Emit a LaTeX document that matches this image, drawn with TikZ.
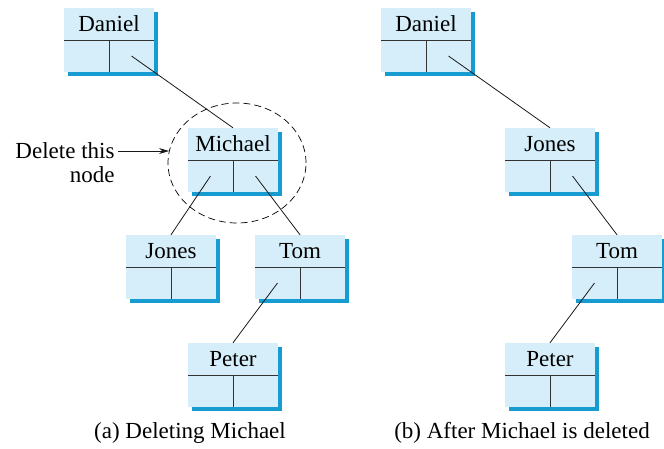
\documentclass[tikz,border=0pt]{standalone}
\usepackage{fontspec}
\setmainfont{Liberation Serif}
\usetikzlibrary{shadows,shapes.geometric,arrows.meta}
\definecolor{boxfill}{RGB}{213,238,249}
\definecolor{boxshade}{RGB}{22,156,208}
\tikzset{
    treebox/.style={rectangle, fill=boxfill, minimum width=90pt, minimum height=64pt, inner sep=0pt,
        drop shadow={shadow xshift=3.5pt, shadow yshift=-3.5pt, fill=boxshade, opacity=1}},
    divider/.style={line width=0.9pt, black!80},
    link/.style={line width=0.8pt, black!90},
}
\begin{document}
\begin{tikzpicture}[x=1pt, y=-1pt, >={Stealth[length=10pt, width=6pt]}, font=\fontsize{23}{24}\selectfont]
    \useasboundingbox (0,0) rectangle (664,448);

    % tree nodes: name/x/y/key
    \foreach \nm/\cx/\cy/\key in {aDaniel/109/40/Daniel, aMichael/233/160/Michael,
            aJones/171/267/Jones, aTom/300/267/Tom, aPeter/233/375/Peter,
            bDaniel/426/40/Daniel, bJones/550/160/Jones, bTom/617/267/Tom, bPeter/550/375/Peter} {
        \node[treebox] (\nm) at (\cx,\cy) {};
        \node[anchor=base] (\nm-key) at (\cx,\cy-9) {\key};
        \draw[divider] (\nm.west) -- (\nm.east);
        \draw[divider] (\nm.center) -- (\nm.south);
        \coordinate (\nm-l) at (\cx-22.5,\cy+16);
        \coordinate (\nm-r) at (\cx+22.5,\cy+16);
    }

    % (a) links
    \draw[link] (aDaniel-r) -- (aMichael.north);
    \draw[link] (aMichael-l) -- (aJones.north);
    \draw[link] (aMichael-r) -- (aTom.north);
    \draw[link] (aTom-l) -- (aPeter.north);

    % (b) links
    \draw[link] (bDaniel-r) -- (bJones.north);
    \draw[link] (bJones-r) -- (bTom.north);
    \draw[link] (bTom-l) -- (bPeter.north);

    % node to delete
    \node[ellipse, draw, line width=0.7pt, dash pattern=on 7pt off 4pt,
        minimum width=138pt, minimum height=120pt] (ring) at (237,163) {};
    \node[align=right, anchor=east] (note) at (118,163) {Delete this\\node};
    \draw[->, link] (note.east |- ring.170) -- (ring.170);

    \node[anchor=base] (capA) at (190,438) {(a) Deleting Michael};
    \node[anchor=base] (capB) at (522,438) {(b) After Michael is deleted};
\end{tikzpicture}
\end{document}
